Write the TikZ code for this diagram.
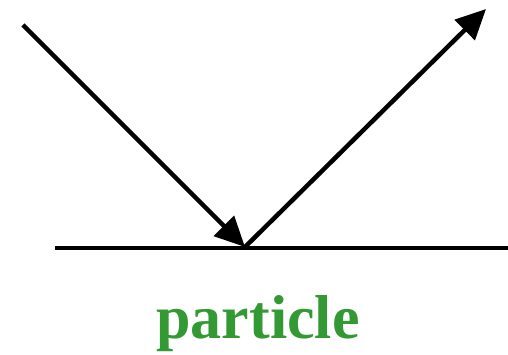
\documentclass[tikz,border=0pt]{standalone}
\usepackage{fontspec}
\setmainfont{Liberation Serif}
\usetikzlibrary{arrows.meta}
\definecolor{pgreen}{RGB}{51,153,51}
\begin{document}
\begin{tikzpicture}[x=1pt,y=1pt,
  ray/.style={line width=4.5pt,-{Triangle[length=30pt,width=28pt]}},
  surf/.style={line width=4.5pt}]
\useasboundingbox (0,0) rectangle (508,355);
\coordinate (s) at (23,330);
\coordinate (h) at (245,108);
\coordinate (e) at (486,346);
\coordinate (l) at (55,107);
\coordinate (r) at (508,107);
\draw[surf] (l) -- (r);
\draw[ray] (s) -- (h);
\draw[ray] (h) -- (e);
\node[text=pgreen,font=\fontsize{62}{66}\selectfont\bfseries,anchor=base,inner sep=0pt] (t) at (258,16) {particle};
\end{tikzpicture}
\end{document}
